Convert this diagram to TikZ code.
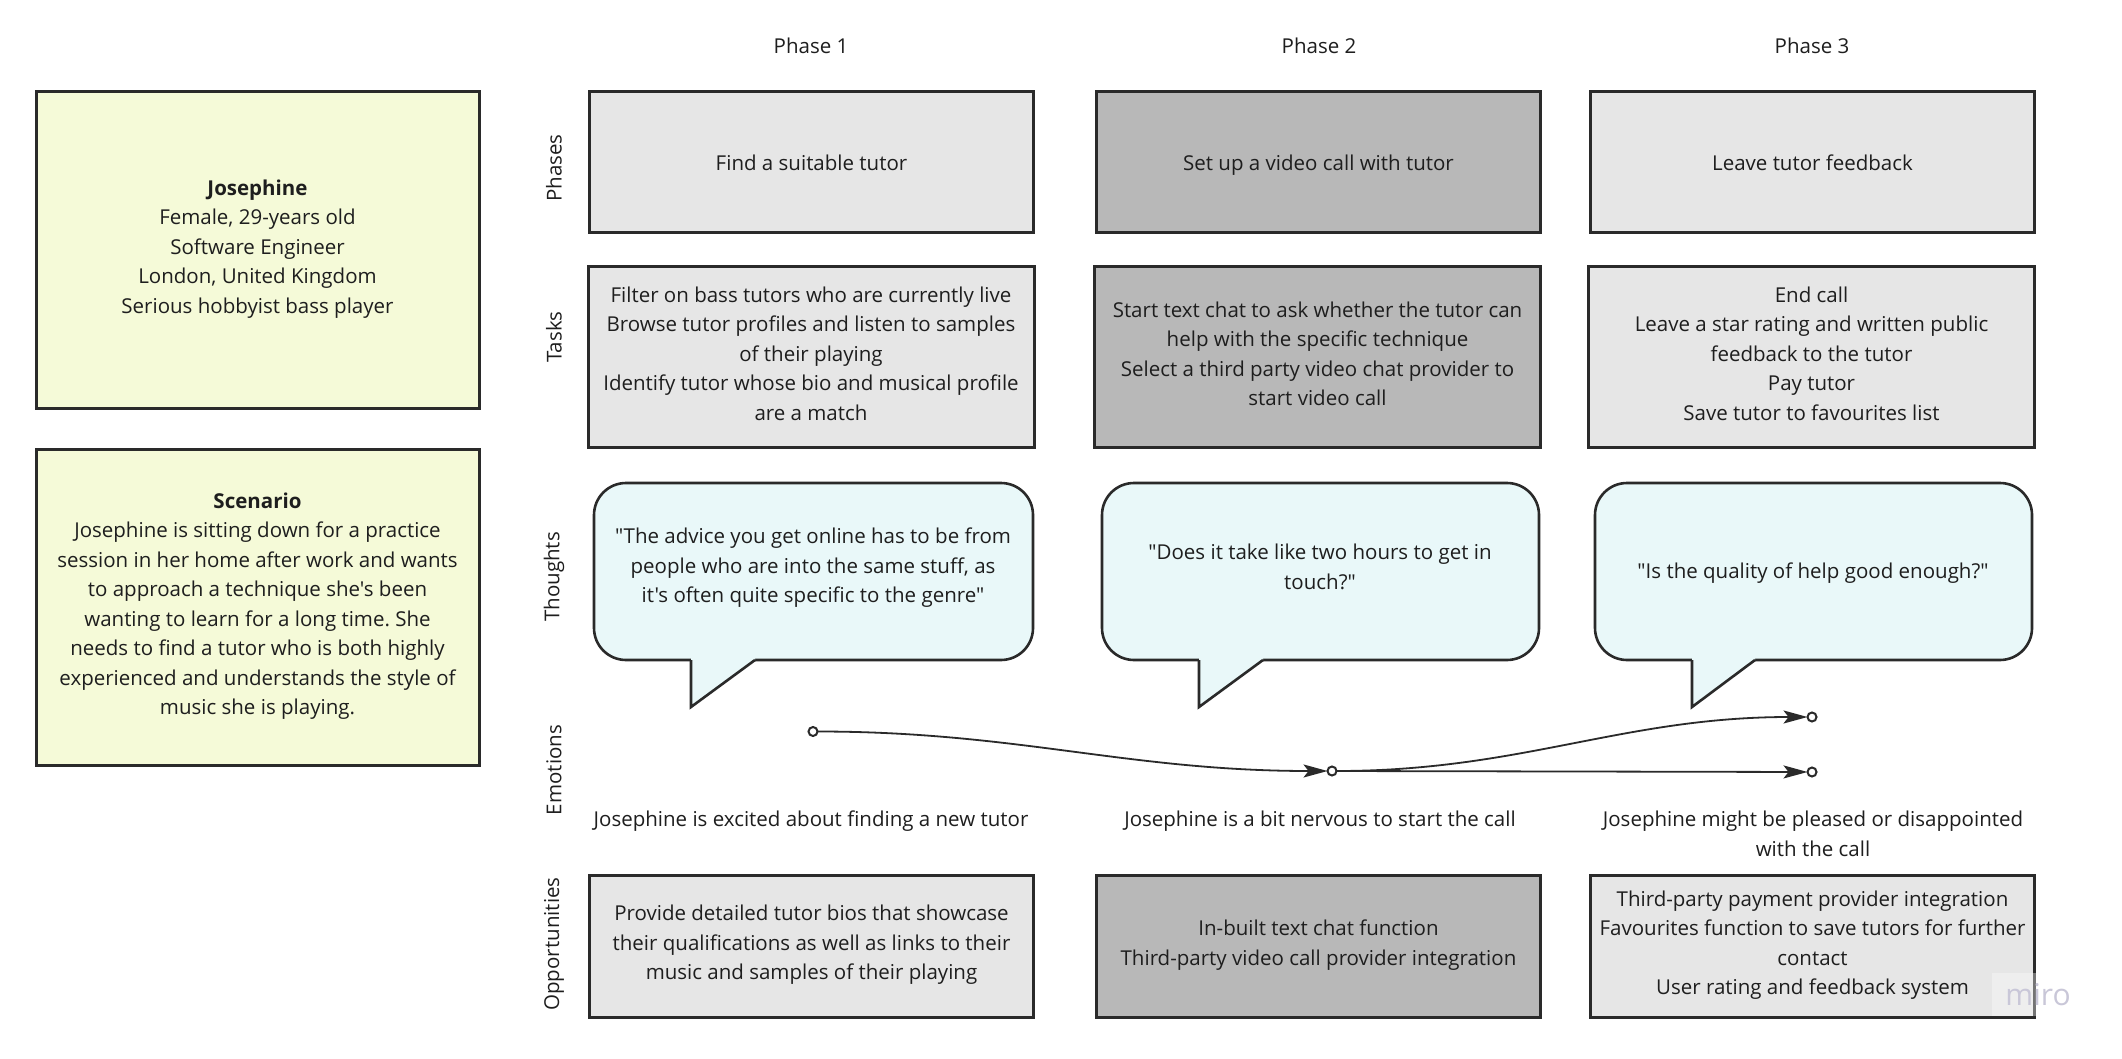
\documentclass[tikz,border=0pt]{standalone}
\usepackage{fontspec}
\setmainfont{Open Sans}[Ligatures=TeXOff]
\usetikzlibrary{arrows.meta}
\definecolor{txt}{HTML}{1E1E1E}
\definecolor{edge}{HTML}{2A2A2A}
\definecolor{personafill}{HTML}{F5FAD8}
\definecolor{lightgray}{HTML}{E6E6E6}
\definecolor{darkgray}{HTML}{B8B8B8}
\definecolor{bubblefill}{HTML}{E9F8F9}
\definecolor{mirocol}{HTML}{C9C7D8}
\newcommand\linestrut{\rule[-6.8pt]{0pt}{29.5pt}}
\newcommand\tbubble[4]{%
  \draw[bubbleline, fill=bubblefill, rounded corners=32pt] (#1,483) rectangle (#2,660);
  \fill[bubblefill] (#3,655) -- (#3,707) -- (#4,660) -- (#4,655) -- cycle;
  \draw[bubbleline, line join=miter] (#3,660) -- (#3,707) -- (#4,660);
}
\begin{document}
\frenchspacing
\begin{tikzpicture}[x=1pt,y=-1pt,
  every node/.style={font=\fontsize{20.5}{29.5}\selectfont, text=txt, inner sep=0pt, outer sep=0pt},
  strutted/.style={execute at begin node={\linestrut}, execute at end node={\linestrut}},
  box/.style={draw=edge, line width=3pt, align=center, strutted},
  persona/.style={box, fill=personafill, minimum width=443pt, minimum height=316pt},
  phasebox/.style={box, minimum width=444pt, minimum height=141pt},
  taskbox/.style={box, minimum width=446pt, minimum height=180pt},
  oppbox/.style={box, minimum width=444pt, minimum height=142pt},
  rowlabel/.style={rotate=90},
  bubbleline/.style={draw=edge, line width=2.6pt},
  bubbletext/.style={align=center, strutted},
  emotext/.style={align=center, anchor=north},
  dot/.style={circle, draw=edge, fill=white, line width=2pt, minimum size=9pt},
  flow/.style={draw=edge, line width=1.8pt, -{Stealth[length=24pt,width=13pt,inset=5pt]}}
]
\useasboundingbox (0,0) rectangle (2122,1059);
\fill[white] (0,0) rectangle (2122,1059);

% phase headers
\node (h1) at (811,46) {Phase 1};
\node (h2) at (1319,46) {Phase 2};
\node (h3) at (1812,46) {Phase 3};

% row labels
\node[rowlabel] (lphases) at (554,168) {Phases};
\node[rowlabel] (ltasks) at (554,337) {Tasks};
\node[rowlabel] (lthoughts) at (554,577) {Thoughts};
\node[rowlabel] (lemotions) at (554,770) {Emotions};
\node[rowlabel] (lopps) at (554,944) {Opportunities};

% persona and scenario
\node[persona] (persona) at (257.5,250) {\textbf{Josephine}\\Female, 29-years old\\Software Engineer\\London, United Kingdom\\Serious hobbyist bass player};
\node[persona] (scenario) at (257.5,607) {\textbf{Scenario}\\Josephine is sitting down for a practice\\session in her home after work and wants\\to approach a technique she's been\\wanting to learn for a long time. She\\needs to find a tutor who is both highly\\experienced and understands the style of\\music she is playing.};

% phases
\node[phasebox, fill=lightgray] (p1) at (811.5,162.5) {Find a suitable tutor};
\node[phasebox, fill=darkgray] (p2) at (1318.5,162.5) {Set up a video call with tutor};
\node[phasebox, fill=lightgray] (p3) at (1812.5,162.5) {Leave tutor feedback};

% tasks
\node[taskbox, fill=lightgray] (t1) at (811,357) {Filter on bass tutors who are currently live\\Browse tutor profiles and listen to samples\\of their playing\\Identify tutor whose bio and musical profile\\are a match};
\node[taskbox, fill=darkgray] (t2) at (1317.5,357) {Start text chat to ask whether the tutor can\\help with the specific technique\\Select a third party video chat provider to\\start video call};
\node[taskbox, fill=lightgray] (t3) at (1811.5,357) {End call\\Leave a star rating and written public\\feedback to the tutor\\Pay tutor\\Save tutor to favourites list};

% thoughts
\tbubble{594}{1033}{691}{755}
\tbubble{1102}{1539}{1199}{1263}
\tbubble{1595}{2032}{1692}{1755}
\node[bubbletext] (b1) at (813,569) {"The advice you get online has to be from\\people who are into the same stuff, as\\it's often quite specific to the genre"};
\node[bubbletext] (b2) at (1320,570) {"Does it take like two hours to get in\\touch?"};
\node[bubbletext] (b3) at (1813,571) {"Is the quality of help good enough?"};

% emotions
\node[dot] (e1) at (813,731.5) {};
\node[dot] (e2) at (1332,771) {};
\node[dot] (e3) at (1812,717) {};
\node[dot] (e4) at (1812,772) {};
\draw[flow] (e1) to[out=0,in=180] (e2);
\draw[flow] (e2) to[out=0,in=180] (e3);
\draw[flow] (e2) -- (e4);
\node[emotext] (m1) at (811,811) {Josephine is excited about finding a new tutor};
\node[emotext] (m2) at (1320,811) {Josephine is a bit nervous to start the call};
\node[emotext] (m3) at (1813,811) {Josephine might be pleased or disappointed\\with the call};

% opportunities
\node[oppbox, fill=lightgray] (o1) at (811.5,946) {Provide detailed tutor bios that showcase\\their qualifications as well as links to their\\music and samples of their playing};
\node[oppbox, fill=darkgray] (o2) at (1318.5,946) {In-built text chat function\\Third-party video call provider integration};
\node[oppbox, fill=lightgray] (o3) at (1812.5,946) {Third-party payment provider integration\\Favourites function to save tutors for further\\contact\\User rating and feedback system};

% watermark
\fill[white, opacity=0.35] (1992,973) rectangle (2080,1016);
\node[text=mirocol, font=\fontsize{30}{34}\selectfont] (miro) at (2038,995) {miro};
\end{tikzpicture}
\end{document}
